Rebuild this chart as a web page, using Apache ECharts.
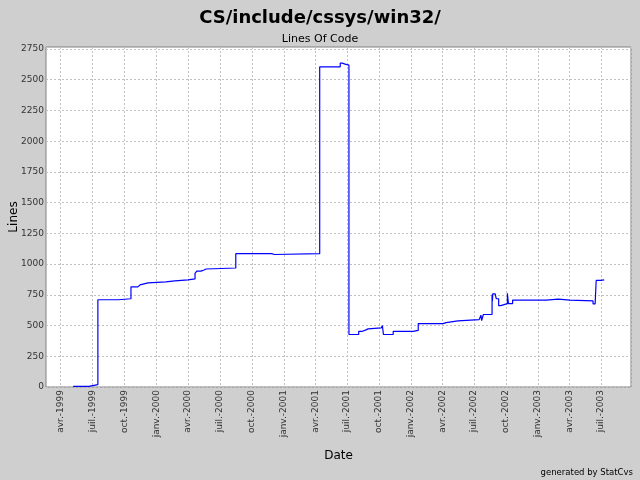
<!DOCTYPE html>
<html>
<head>
<meta charset="utf-8">
<script src="https://cdn.jsdelivr.net/npm/echarts@6/dist/echarts.min.js"></script>
<style>
html,body{margin:0;padding:0;background:#cfcfcf;}
#c{width:640px;height:480px;}
</style>
</head>
<body>
<div id="c"></div>
<script>
var dates = ['1999-05-07','1999-06-21','1999-07-17','1999-09-14','1999-10-20','1999-11-09','1999-11-15','1999-12-08','2000-01-28','2000-02-23','2000-04-01','2000-04-21','2000-04-26','2000-05-08','2000-05-17','2000-05-23','2000-08-16','2000-11-27','2000-12-05','2001-04-14','2001-06-12','2001-06-18','2001-06-26','2001-07-07','2001-08-04','2001-08-13','2001-08-25','2001-08-31','2001-10-08','2001-10-11','2001-10-14','2001-11-11','2002-01-07','2002-01-22','2002-04-03','2002-04-12','2002-05-16','2002-07-16','2002-07-21','2002-07-23','2002-07-28','2002-08-22','2002-08-23','2002-08-24','2002-08-31','2002-09-03','2002-09-10','2002-09-16','2002-10-05','2002-10-08','2002-10-20','2003-01-24','2003-02-28','2003-04-03','2003-06-08','2003-06-14','2003-06-17','2003-06-30','2003-07-10'];
var lines = [5,19,710,718,815,831,847,855,863,871,879,925,943,952,960,968,1085,1078,1085,2605,2635,2627,2618,427,452,465,473,481,489,500,427,452,460,516,524,538,548,564,585,540,590,750,700,758,771,718,662,678,763,678,707,715,707,700,676,689,867,872,872];
var monthNames = ['janv.','févr.','mars','avr.','mai','juin','juil.','août','sept.','oct.','nov.','déc.'];
var xMin = '1999-02-18';
var xMax = '2003-09-25';

var seriesData = dates.map(function(d, i){ return [d, lines[i]]; });

var chart = echarts.init(document.getElementById('c'), null, {renderer:'canvas'});
chart.setOption({
  backgroundColor: '#cfcfcf',
  animation: false,
  title: [
    {text: 'CS/include/cssys/win32/', left: 'center', top: 9, padding: 0,
     textStyle: {fontFamily: 'DejaVu Sans', fontWeight: 'bold', fontSize: 18, color: '#000'}},
    {text: 'Lines Of Code', left: 'center', top: 34, padding: 0,
     textStyle: {fontFamily: 'DejaVu Sans', fontWeight: 'normal', fontSize: 11, color: '#000'}},
    {text: 'generated by StatCvs', right: 7, top: 468, padding: 0,
     textStyle: {fontFamily: 'DejaVu Sans', fontWeight: 'normal', fontSize: 8.5, color: '#000'}}
  ],
  grid: {left: 46, right: 9, top: 47, bottom: 93, show: true, backgroundColor: '#ffffff', borderColor: '#808080', borderWidth: 1, containLabel: false, outerBoundsMode: 'none'},
  xAxis: {
    type: 'time', min: xMin, max: xMax, splitNumber: 18,
    minInterval: 80*86400000, maxInterval: 100*86400000,
    name: 'Date', nameLocation: 'middle', nameGap: 63, nameMoveOverlap: false,
    nameTextStyle: {fontFamily: 'DejaVu Sans', fontSize: 12, color: '#000'},
    axisLine: {show: false}, axisTick: {show: false},
    axisLabel: {rotate: 90, margin: 3, fontFamily: 'DejaVu Sans', fontSize: 9, color: '#333',
      showMinLabel: false, showMaxLabel: false,
      formatter: function(v){ var d = new Date(v); return monthNames[d.getMonth()] + '-' + d.getFullYear(); }},
    splitLine: {show: true, lineStyle: {color: '#c0c0c0', width: 1, type: [2,2]}}
  },
  yAxis: {
    type: 'value', min: 0, max: 2766, interval: 250,
    name: 'Lines', nameLocation: 'middle', nameGap: 26, nameMoveOverlap: false,
    nameTextStyle: {fontFamily: 'DejaVu Sans', fontSize: 12, color: '#000'},
    axisLine: {show: false}, axisTick: {show: false},
    axisLabel: {margin: 2, fontFamily: 'DejaVu Sans', fontSize: 9, color: '#333', showMaxLabel: false, padding: [5,0,0,0],
      formatter: function(v){ return String(v); }},
    splitLine: {show: true, lineStyle: {color: '#c0c0c0', width: 1, type: [2,2]}}
  },
  series: [{
    type: 'line', step: 'end', data: seriesData, showSymbol: false, symbol: 'none',
    lineStyle: {color: '#0000ff', width: 1.2}, itemStyle: {color: '#0000ff'}
  }]
});
</script>
</body>
</html>
